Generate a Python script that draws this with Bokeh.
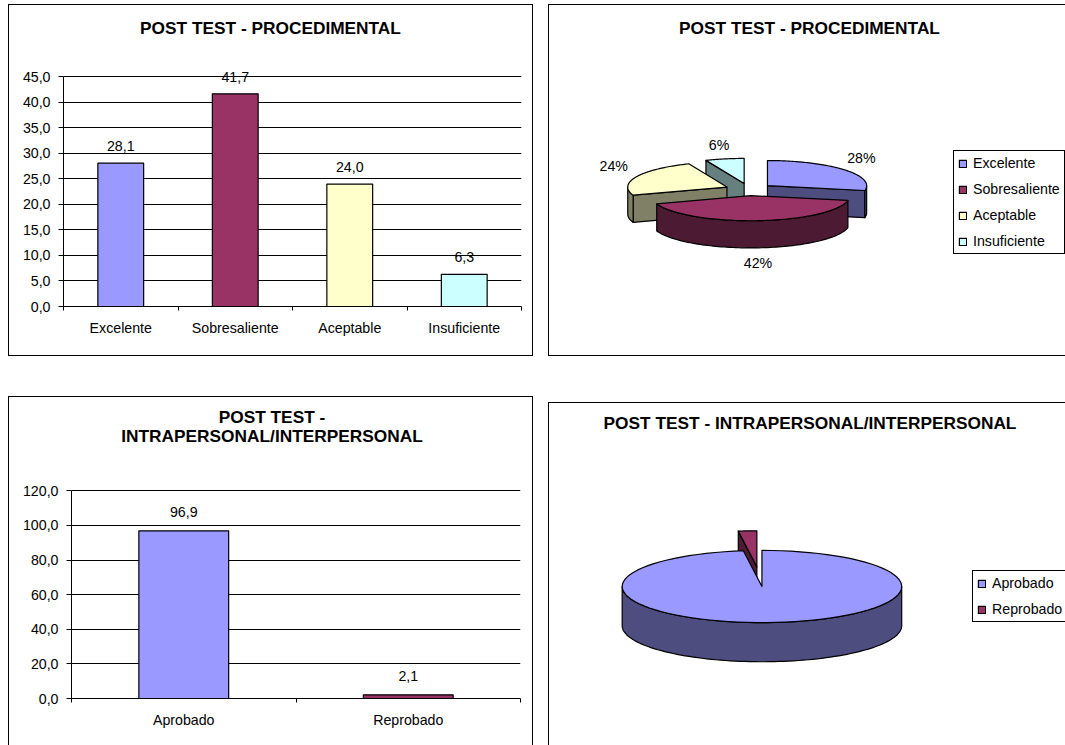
import numpy as np
from bokeh.core.properties import value
from bokeh.embed import file_html
from bokeh.models import (FixedTicker, Label, Legend, LegendItem, LinearAxis, Range1d)
from bokeh.plotting import figure
from bokeh.resources import INLINE

FONT = "Liberation Sans"
TXT = "14.2px"
TTL = "17.3px"

# ---- data ----
proc_cats = ["Excelente", "Sobresaliente", "Aceptable", "Insuficiente"]
proc_vals = [28.1, 41.7, 24.0, 6.3]
proc_ticks = [0, 5, 10, 15, 20, 25, 30, 35, 40, 45]
inter_cats = ["Aprobado", "Reprobado"]
inter_vals = [96.9, 2.1]
inter_ticks = [0, 20, 40, 60, 80, 100, 120]
title_proc = ["POST TEST - PROCEDIMENTAL"]
title_inter_bar = ["POST TEST -", "INTRAPERSONAL/INTERPERSONAL"]
title_inter_pie = ["POST TEST - INTRAPERSONAL/INTERPERSONAL"]
proc_colors = ["#9999FF", "#993366", "#FFFFCC", "#CCFFFF"]
proc_sides = ["#4D4D80", "#4D1A33", "#808066", "#668080"]
inter_colors = ["#9999FF", "#993366"]
inter_sides = ["#4D4D80", "#4D1A33"]


def comma(v):
    return f"{v:.1f}".replace(".", ",")


def placed(left, top, open_right=False, open_bottom=False):
    st = {"position": "absolute", "left": f"{left}px", "top": f"{top}px",
          "box-sizing": "content-box",
          "border-left": "1px solid black", "border-top": "1px solid black"}
    if not open_right:
        st["border-right"] = "1px solid black"
    if not open_bottom:
        st["border-bottom"] = "1px solid black"
    return st


def bar_chart(cats, vals, ticks, colors, titles, w, h, fl, fb, fr, plot_px, title_cx, title_ys,
              box_left, box_top, styles, label_dy):
    n = len(cats)
    frame_h = h - fb
    # The frame runs up to the top of the chart box so titles and labels are not clipped;
    # the axis itself stops at the last tick through its bounds.
    y_end = ticks[-1] * frame_h / plot_px
    p = figure(width=w, height=h, output_backend="svg", toolbar_location=None,
               x_range=Range1d(0, n), y_range=Range1d(0, y_end),
               x_axis_location=None, y_axis_location=None,
               min_border_left=fl, min_border_top=0, min_border_bottom=fb, min_border_right=fr,
               background_fill_color="white", border_fill_color="white", styles=styles)
    p.outline_line_color = None
    p.xgrid.visible = False
    xs = [i + 0.5 for i in range(n)]
    xticker = FixedTicker(ticks=xs, minor_ticks=list(range(n + 1)))
    xax = LinearAxis(ticker=xticker,
                     major_label_overrides={x: c for x, c in zip(xs, cats)},
                     major_tick_out=0, major_tick_in=0, minor_tick_out=4, minor_tick_in=0,
                     major_label_standoff=9, major_label_text_font=FONT,
                     major_label_text_font_size=TXT, major_label_text_color="black",
                     axis_line_color="black", minor_tick_line_color="black")
    yax = LinearAxis(ticker=FixedTicker(ticks=ticks), bounds=(ticks[0], ticks[-1]),
                     major_label_overrides={t: comma(t) for t in ticks},
                     major_tick_out=5, major_tick_in=0, minor_tick_out=0, minor_tick_in=0,
                     major_label_standoff=8, major_label_text_font=FONT,
                     major_label_text_font_size=TXT, major_label_text_color="black",
                     axis_line_color="black", major_tick_line_color="black")
    p.add_layout(xax, "below")
    p.add_layout(yax, "left")
    p.ygrid.ticker = FixedTicker(ticks=ticks)
    p.ygrid.grid_line_color = "black"
    p.ygrid.grid_line_width = 1
    p.vbar(x=xs, top=vals, bottom=0, width=0.4, fill_color=colors, line_color="black", line_width=1.2)
    p.text(x=xs, y=vals, text=[comma(v) for v in vals], text_font=value(FONT),
           text_font_size=value(TXT), text_color="black", text_align="center",
           text_baseline="middle", y_offset=label_dy)
    left_abs = box_left + 1 + fl
    bottom_abs = box_top + 1 + frame_h
    for t, ty in zip(titles, title_ys):
        p.add_layout(Label(x=title_cx - left_abs, y=bottom_abs - ty, x_units="screen", y_units="screen",
                           text=t, text_font=FONT, text_font_size=TTL, text_font_style="bold",
                           text_color="black", text_align="center", text_baseline="middle"))
    return p


def pie_chart(cats, vals, colors, sides, title, w, h, cx, cy, rx, ry, depth, explode, title_x, title_y,
              legend_loc, styles, draw_order, label_pct):
    p = figure(width=w, height=h, output_backend="svg", toolbar_location=None,
               x_range=Range1d(0, w), y_range=Range1d(h, 0),
               x_axis_location=None, y_axis_location=None,
               min_border=0, background_fill_color="white", border_fill_color="white", styles=styles)
    p.outline_line_color = None
    p.grid.visible = False
    share = np.array(vals, dtype=float) / sum(vals)
    edges = np.concatenate([[0], np.cumsum(share)]) * 2 * np.pi
    tops = {}
    kw = dict(line_color="black", line_width=1.2, line_join="round")
    for i in draw_order:
        a, b = edges[i], edges[i + 1]
        mid = (a + b) / 2
        ax = cx + explode * np.sin(mid)
        ay = cy - explode * ry / rx * np.cos(mid)
        th = np.linspace(a, b, 90)
        arcx = ax + rx * np.sin(th)
        arcy = ay - ry * np.cos(th)
        for ang, sign in ((a, -1), (b, 1)):
            if sign * np.sin(ang) > 1e-6:
                ex, ey = ax + rx * np.sin(ang), ay - ry * np.cos(ang)
                p.patch([ax, ex, ex, ax], [ay, ey, ey + depth, ay + depth],
                        fill_color=sides[i], **kw)
        lo, hi = max(a, np.pi / 2), min(b, 3 * np.pi / 2)
        if hi > lo:
            t2 = np.linspace(lo, hi, 90)
            wx = ax + rx * np.sin(t2)
            wy = ay - ry * np.cos(t2)
            p.patch(np.r_[wx, wx[::-1]], np.r_[wy, wy[::-1] + depth], fill_color=sides[i], **kw)
        tops[i] = p.patch(np.r_[ax, arcx], np.r_[ay, arcy], fill_color=colors[i], **kw)
        if label_pct:
            lx = ax + 1.24 * rx * np.sin(mid) - 1
            ly = ay - 1.24 * ry * np.cos(mid)
            ly += depth + 9 if np.cos(mid) < 0 else -8
            p.text(x=[lx], y=[ly], text=[f"{round(vals[i]):d}%"], text_font=value(FONT),
                   text_font_size=value(TXT), text_color="black", text_align="center",
                   text_baseline="middle")
    legend = Legend(items=[LegendItem(label=c, renderers=[tops[i]]) for i, c in enumerate(cats)],
                    location=legend_loc, orientation="vertical", glyph_width=9, glyph_height=9,
                    label_text_font=FONT, label_text_font_size=TXT, label_text_color="black",
                    label_standoff=6, padding=4, spacing=10, margin=0,
                    border_line_color="black", border_line_width=1.2, border_line_alpha=1,
                    background_fill_color="white", background_fill_alpha=1,
                    label_height=14, label_text_line_height=1.0)
    p.add_layout(legend)
    p.add_layout(Label(x=title_x, y=title_y, x_units="data", y_units="data",
                       text=title, text_font=FONT, text_font_size=TTL, text_font_style="bold",
                       text_color="black", text_align="center", text_baseline="middle"))
    return p


p1 = bar_chart(proc_cats, proc_vals, proc_ticks, proc_colors, title_proc,
               523, 350, 54, 51, 13, 228, 270, [25.5], 8, 4, placed(8, 4), -17)
p2 = pie_chart(proc_cats, proc_vals, proc_colors, proc_sides, title_proc[0],
               516, 350, 199, 183, 99, 25, 27, 24, 259.5, 22,
               (404, 103), placed(548, 4, open_right=True), [3, 2, 0, 1], True)
p3 = bar_chart(inter_cats, inter_vals, inter_ticks, inter_colors, title_inter_bar,
               523, 348, 62, 48, 14, 207, 271.5, [415, 434], 8, 396,
               placed(8, 396, open_bottom=True), -19)
p4 = pie_chart(inter_cats, inter_vals, inter_colors, inter_sides, title_inter_pie[0],
               516, 342, 209.5, 172.7, 139.5, 36, 39, 38, 260, 19,
               (423, 124), placed(548, 402, open_right=True, open_bottom=True), [1, 0], False)

open("out.html", "w").write(file_html([p1, p2, p3, p4], INLINE))
